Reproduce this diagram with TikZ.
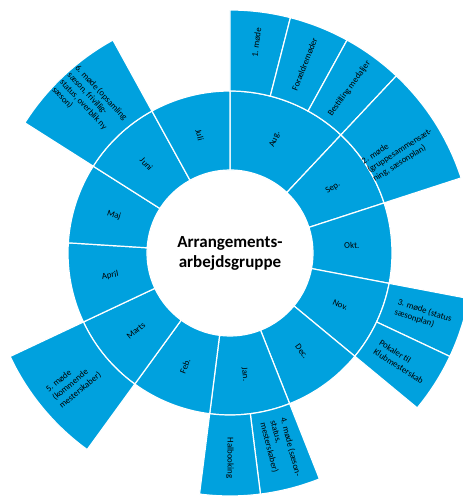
\documentclass[tikz,border=0pt]{standalone}
\usepackage{fontspec}
\setmainfont{Carlito}
\usepackage{tikz}
\definecolor{sunblue}{RGB}{0,161,222}
\tikzset{
  part/.style={fill=sunblue, draw=white, line width=1.2pt},
  lbl/.style={font=\fontsize{8.8}{10.5}\selectfont, align=left, inner sep=0pt},
}
% ring piece: inner radius, outer radius, start angle, end angle
\newcommand{\ringpart}[4]{\draw[part] (#3:#1) arc[start angle=#3, end angle=#4, radius=#1] -- (#4:#2) arc[start angle=#4, end angle=#3, radius=#2] -- cycle;}

\begin{document}
\begin{tikzpicture}[x=1pt,y=1pt]
\clip (-230,-243) rectangle (233,253);
% months
\ringpart{83}{162}{90}{46.8}
\ringpart{83}{162}{46.8}{18}
\ringpart{83}{162}{18}{-10.8}
\ringpart{83}{162}{-10.8}{-39.6}
\ringpart{83}{162}{-39.6}{-68.4}
\ringpart{83}{162}{-68.4}{-97.2}
\ringpart{83}{162}{-97.2}{-126}
\ringpart{83}{162}{-126}{-154.8}
\ringpart{83}{162}{-154.8}{-183.6}
\ringpart{83}{162}{-183.6}{-212.4}
\ringpart{83}{162}{-212.4}{-241.2}
\ringpart{83}{162}{-241.2}{-270}
% tasks
\ringpart{162}{243}{90}{75.6}
\ringpart{162}{243}{75.6}{61.2}
\ringpart{162}{243}{61.2}{46.8}
\ringpart{162}{243}{46.8}{18}
\ringpart{162}{243}{-10.8}{-25.2}
\ringpart{162}{243}{-25.2}{-39.6}
\ringpart{162}{243}{-68.4}{-82.8}
\ringpart{162}{243}{-82.8}{-97.2}
\ringpart{162}{243}{-126}{-154.8}
\ringpart{162}{243}{-212.4}{-241.2}

\node[align=center, font=\fontsize{17}{20}\selectfont\bfseries] (title) at (0,0) {Arrangements-\\arbejdsgruppe};

\node[lbl, rotate=68.4] (aug) at (68.4:122) {Aug.};
\node[lbl, rotate=32.4] (sep) at (32.4:122) {Sep.};
\node[lbl, rotate=3.6] (okt) at (3.6:122) {Okt.};
\node[lbl, rotate=-25.2] (nov) at (-25.2:122) {Nov.};
\node[lbl, rotate=-54] (dec) at (-54:122) {Dec.};
\node[lbl, rotate=-82.8] (jan) at (-82.8:122) {Jan.};
\node[lbl, rotate=68.4] (feb) at (-111.6:122) {Feb.};
\node[lbl, rotate=39.6] (marts) at (-140.4:122) {Marts};
\node[lbl, rotate=10.8] (april) at (-169.2:122) {April};
\node[lbl, rotate=-18] (maj) at (-198:122) {Maj};
\node[lbl, rotate=-46.8] (juni) at (-226.8:122) {Juni};
\node[lbl, rotate=-75.6] (juli) at (-255.6:122) {Juli};

\node[lbl, rotate=82.8] (mode1) at (82.8:212) {1. møde};
\node[lbl, rotate=68.4] (foraeldre) at (68.4:203) {Forældremøder};
\node[lbl, rotate=54] (medaljer) at (54:203) {Bestilling medaljer};
\node[lbl, rotate=32.4] (mode2) at (31:198) {2. møde\\(gruppesammensæt-\\ning, sæsonplan)};
\node[lbl, rotate=-18] (mode3) at (-18:203) {3. møde (status\\sæsonplan)};
\node[lbl, rotate=-32.4] (pokaler) at (-32.4:203) {Pokaler til\\Klubmesterskab};
\node[lbl, rotate=-75.6] (mode4) at (-75.6:203) {4. møde (sæson-\\status,\\mesterskaber)};
\node[lbl, rotate=-90] (hal) at (-90:205) {Halbooking};
\node[lbl, rotate=39.6] (mode5) at (-140.4:203) {5. møde\\(kommende\\mesterskaber)};
\node[lbl, rotate=-46.8] (mode6) at (-226.8:205) {6. møde (opsamling\\sæson, frivillig-\\status, overblik ny\\sæson)};
\end{tikzpicture}
\end{document}
